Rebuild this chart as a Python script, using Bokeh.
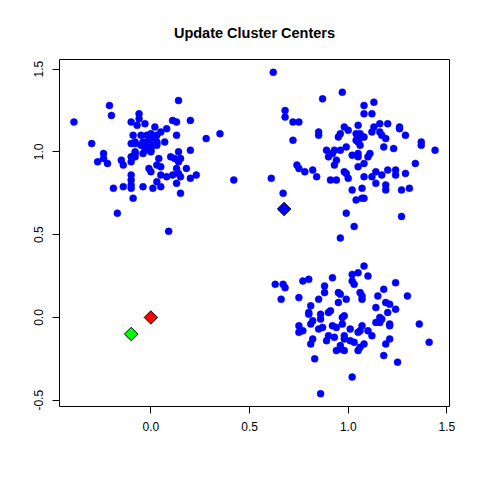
from bokeh.plotting import figure
from bokeh.models import Range1d, FixedTicker, PrintfTickFormatter
from bokeh.embed import file_html
from bokeh.resources import INLINE
import math

title = "Update Cluster Centers"
x_ticks = [0.0, 0.5, 1.0, 1.5]
y_ticks = [-0.5, 0.0, 0.5, 1.0, 1.5]

# cluster near (0, 1)
c1_x = [0.14, -0.21, -0.20, -0.39, -0.06, -0.06, -0.10, -0.07, -0.03, 0.11, 0.13, 0.20,
        0.02, 0.08, 0.05, 0.00, 0.13, 0.28, 0.35, -0.30, -0.09, -0.05, -0.02, 0.03,
        -0.10, -0.08, -0.04, -0.01, 0.03, 0.07, -0.05, -0.02, 0.01, 0.03, -0.03, 0.00,
        -0.08, -0.04, 0.00, 0.20, 0.14, -0.24, -0.24, -0.27, -0.22, -0.15, -0.14, -0.10,
        -0.10, -0.08, 0.04, 0.10, 0.12, 0.15, 0.14, 0.03, 0.05, -0.01, 0.00, 0.13,
        0.18, 0.14, -0.10, 0.05, 0.08, 0.11, 0.15, 0.20, 0.23, -0.10, -0.10, 0.03,
        0.13, -0.19, -0.14, -0.10, -0.04, 0.01, 0.05, 0.42, 0.15, -0.09, -0.17, 0.09,
        0.00, 0.02, -0.03, -0.01, 0.03, -0.08, -0.08]
c1_y = [1.31, 1.28, 1.22, 1.18, 1.23, 1.20, 1.18, 1.16, 1.17, 1.19, 1.18, 1.19,
        1.15, 1.14, 1.12, 1.11, 1.10, 1.08, 1.11, 1.05, 1.10, 1.10, 1.10, 1.10,
        1.05, 1.05, 1.06, 1.07, 1.06, 1.06, 1.04, 1.03, 1.04, 1.04, 1.01, 1.01,
        1.00, 0.99, 1.00, 1.01, 1.00, 0.99, 0.96, 0.94, 0.93, 0.95, 0.92, 0.97,
        0.94, 0.97, 0.96, 0.97, 0.96, 0.96, 0.94, 0.92, 0.91, 0.90, 0.88, 0.90,
        0.90, 0.87, 0.86, 0.86, 0.85, 0.86, 0.85, 0.84, 0.86, 0.83, 0.80, 0.82,
        0.81, 0.78, 0.79, 0.78, 0.79, 0.78, 0.79, 0.83, 0.75, 0.72, 0.63, 0.52,
        1.10, 1.08, 1.05, 1.02, 1.05, 1.06, 0.99]

# cluster near (1, 1)
c2_x = [0.62, 0.97, 0.87, 0.68, 0.68, 0.72, 0.75, 1.08, 1.13, 1.08, 1.12, 1.16,
        1.20, 1.26, 1.26, 1.29, 1.37, 1.37, 1.44, 1.05, 1.13, 1.12, 0.98, 1.00,
        0.85, 0.85, 0.96, 0.95, 1.04, 1.06, 1.08, 1.16, 1.17, 1.19, 0.72, 1.04,
        1.05, 1.06, 1.18, 1.23, 0.89, 0.93, 0.96, 0.99, 0.90, 0.92, 1.02, 1.05,
        1.05, 1.11, 1.10, 0.94, 0.93, 1.08, 1.05, 1.34, 0.74, 0.75, 0.78, 0.82,
        0.84, 0.98, 0.99, 1.00, 0.91, 0.94, 1.08, 1.12, 1.14, 1.17, 1.20, 1.24,
        1.24, 1.29, 0.61, 1.14, 1.19, 1.19, 1.27, 1.31, 1.02, 1.07, 1.04, 1.07,
        1.08, 0.67, 0.99, 1.27, 1.03, 0.96, 1.05, 1.07]
c2_y = [1.48, 1.36, 1.32, 1.25, 1.21, 1.18, 1.18, 1.28, 1.30, 1.23, 1.23, 1.17,
        1.17, 1.15, 1.14, 1.10, 1.06, 1.04, 1.01, 1.16, 1.15, 1.12, 1.15, 1.13,
        1.12, 1.10, 1.11, 1.09, 1.11, 1.11, 1.09, 1.12, 1.10, 1.08, 1.07, 1.07,
        1.06, 1.04, 1.03, 1.02, 1.01, 1.01, 1.01, 1.03, 0.97, 0.99, 0.98, 0.99,
        0.97, 0.99, 0.97, 0.95, 0.92, 0.93, 0.91, 0.93, 0.92, 0.90, 0.88, 0.89,
        0.85, 0.88, 0.87, 0.84, 0.83, 0.83, 0.85, 0.85, 0.88, 0.86, 0.89, 0.89,
        0.86, 0.87, 0.84, 0.81, 0.80, 0.77, 0.77, 0.78, 0.77, 0.78, 0.71, 0.72,
        0.72, 0.75, 0.63, 0.61, 0.55, 0.48, 1.07, 1.09]

# cluster near (1, 0)
c3_x = [1.08, 1.02, 1.05, 1.10, 0.92, 0.77, 0.80, 0.63, 0.67, 0.68, 1.02, 1.03,
        1.24, 0.88, 0.88, 0.66, 0.75, 0.85, 0.95, 0.96, 1.06, 1.07, 1.07, 1.18,
        1.15, 1.30, 0.95, 0.99, 0.81, 0.80, 0.80, 0.91, 0.90, 0.86, 0.86, 0.98,
        0.97, 1.19, 1.21, 1.14, 1.24, 1.20, 1.16, 1.17, 1.14, 1.16, 1.21, 1.21,
        0.82, 0.81, 0.75, 0.75, 0.77, 0.85, 0.87, 0.92, 0.94, 0.97, 1.01, 1.05,
        1.06, 1.07, 1.10, 1.12, 0.90, 0.93, 0.98, 0.98, 1.01, 1.03, 0.82, 0.81,
        0.89, 1.21, 1.19, 1.36, 1.41, 0.96, 0.94, 0.98, 0.96, 1.08, 1.06, 1.05,
        0.83, 1.18, 1.25, 1.02, 0.86]
c3_y = [0.31, 0.26, 0.27, 0.25, 0.24, 0.22, 0.23, 0.20, 0.20, 0.18, 0.22, 0.20,
        0.21, 0.19, 0.15, 0.11, 0.12, 0.11, 0.15, 0.14, 0.15, 0.13, 0.11, 0.17,
        0.13, 0.13, 0.09, 0.11, 0.07, 0.03, 0.02, 0.04, 0.03, 0.02, -0.01, 0.01,
        0.00, 0.09, 0.08, 0.06, 0.05, 0.03, 0.00, -0.01, -0.03, -0.03, -0.04, -0.05,
        -0.02, -0.04, -0.05, -0.09, -0.08, -0.07, -0.06, -0.05, -0.06, -0.04, -0.07, -0.09,
        -0.08, -0.05, -0.08, -0.11, -0.11, -0.12, -0.11, -0.13, -0.14, -0.15, -0.13, -0.16,
        -0.14, -0.13, -0.16, -0.04, -0.15, -0.17, -0.20, -0.20, -0.19, -0.16, -0.18, -0.20,
        -0.25, -0.23, -0.27, -0.36, -0.46]

# cluster centers
center_x = [0.00, -0.10, 0.675]
center_y = [0.00, -0.10, 0.655]
center_colors = ["#FF0000", "#00FF00", "#0000FF"]

all_x = c1_x + c2_x + c3_x + center_x
all_y = c1_y + c2_y + c3_y + center_y
xmin, xmax = min(all_x), max(all_x)
ymin, ymax = min(all_y), max(all_y)
dx = 0.04 * (xmax - xmin)
dy = 0.04 * (ymax - ymin)

p = figure(width=472, height=472, output_backend="svg", toolbar_location=None,
           x_range=Range1d(xmin - dx, xmax + dx), y_range=Range1d(ymin - dy, ymax + dy),
           min_border_left=59, min_border_right=23, min_border_top=59, min_border_bottom=66,
           title=title)
p.title.text_font = "Liberation Sans"
p.title.text_font_size = "14.5px"
p.title.text_font_style = "bold"
p.title.align = "center"
p.title.text_color = "black"
p.title.standoff = 37

p.background_fill_color = "white"
p.border_fill_color = "white"
p.outline_line_color = "black"
p.outline_line_width = 1
p.xgrid.visible = False
p.ygrid.visible = False

for ax, ticks in ((p.xaxis, x_ticks), (p.yaxis, y_ticks)):
    ax.ticker = FixedTicker(ticks=ticks)
    ax.formatter = PrintfTickFormatter(format="%.1f")
    ax.axis_line_color = None
    ax.major_tick_line_color = "black"
    ax.major_tick_out = 7
    ax.major_tick_in = 0
    ax.minor_tick_line_color = None
    ax.major_label_text_font = "Liberation Sans"
    ax.major_label_text_font_size = "12px"
    ax.major_label_text_color = "black"
p.xaxis.major_label_standoff = 8
p.yaxis.major_label_standoff = 9
p.yaxis.major_label_orientation = "vertical"

dot = "#0000FF"
p.scatter(c1_x, c1_y, size=7, fill_color=dot, line_color=dot, line_width=0.5)
p.scatter(c2_x, c2_y, size=7, fill_color=dot, line_color=dot, line_width=0.5)
p.scatter(c3_x, c3_y, size=7, fill_color=dot, line_color=dot, line_width=0.5)
p.scatter(center_x, center_y, marker="square", angle=math.pi / 4, size=9.5,
          fill_color=center_colors, line_color="black", line_width=1)

open("out.html", "w").write(file_html(p, INLINE))
